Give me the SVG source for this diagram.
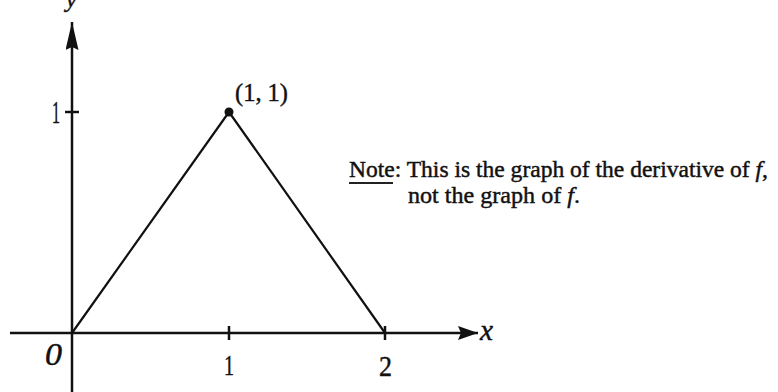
<svg xmlns="http://www.w3.org/2000/svg" width="778" height="392" viewBox="0 0 778 392">
<style>
.t{font-family:"Liberation Serif","Times New Roman",serif;fill:#111;stroke:#111;stroke-width:0.45}
.i{font-style:italic}
.ax{stroke:#111;stroke-width:2.5;fill:none}
.ln{stroke:#111;stroke-width:2.2;fill:none}
</style>
<defs>
<marker id="ahx" viewBox="0 0 20 14" refX="20" refY="7" markerWidth="20" markerHeight="14" markerUnits="userSpaceOnUse" orient="auto">
<path d="M0,0 L20,7 L0,14 L3,7 Z" fill="#111"/>
</marker>
<marker id="ahy" viewBox="0 0 28 13" refX="28" refY="6.5" markerWidth="28" markerHeight="13" markerUnits="userSpaceOnUse" orient="auto">
<path d="M0,0 L28,6.5 L0,13 L3,6.5 Z" fill="#111"/>
</marker>
</defs>
<rect width="778" height="392" fill="#fff"/>
<g id="connectors">
<line id="x-axis" class="ax" x1="10" y1="333" x2="478" y2="333" marker-end="url(#ahx)"/>
<line id="y-axis" class="ax" x1="72" y1="392" x2="72" y2="22" marker-end="url(#ahy)"/>
<line class="ax" x1="65" y1="112" x2="79" y2="112"/>
<line class="ax" x1="229" y1="326" x2="229" y2="340"/>
<line class="ax" x1="385" y1="326" x2="385" y2="340"/>
<polyline id="graph" class="ln" points="72,333 229,112 385,333"/>
</g>
<g id="peak">
<circle cx="229" cy="112" r="4.5" fill="#111"/>
<text class="t" x="235" y="101" font-size="26" textLength="53" lengthAdjust="spacingAndGlyphs">(1, 1)</text>
</g>
<g id="labels">
<text class="t i" x="66" y="7" font-size="24">y</text>
<text class="t" x="52" y="123" font-size="32" textLength="8" lengthAdjust="spacingAndGlyphs">1</text>
<text class="t i" x="45" y="365" font-size="32" textLength="17" lengthAdjust="spacingAndGlyphs">0</text>
<text class="t" x="224" y="375" font-size="29" textLength="10" lengthAdjust="spacingAndGlyphs">1</text>
<text class="t" x="379" y="376" font-size="29" textLength="13" lengthAdjust="spacingAndGlyphs">2</text>
<text class="t i" x="480" y="340" font-size="30" textLength="13" lengthAdjust="spacingAndGlyphs">x</text>
</g>
<g id="note">
<text class="t" x="349" y="177" font-size="24" textLength="419" lengthAdjust="spacingAndGlyphs">Note: This is the graph of the derivative of <tspan class="i">f</tspan>,</text>
<line x1="349" y1="183" x2="393" y2="183" stroke="#222" stroke-width="1.8"/>
<text class="t" x="408" y="203" font-size="24" textLength="172" lengthAdjust="spacingAndGlyphs">not the graph of <tspan class="i">f</tspan>.</text>
</g>
</svg>
